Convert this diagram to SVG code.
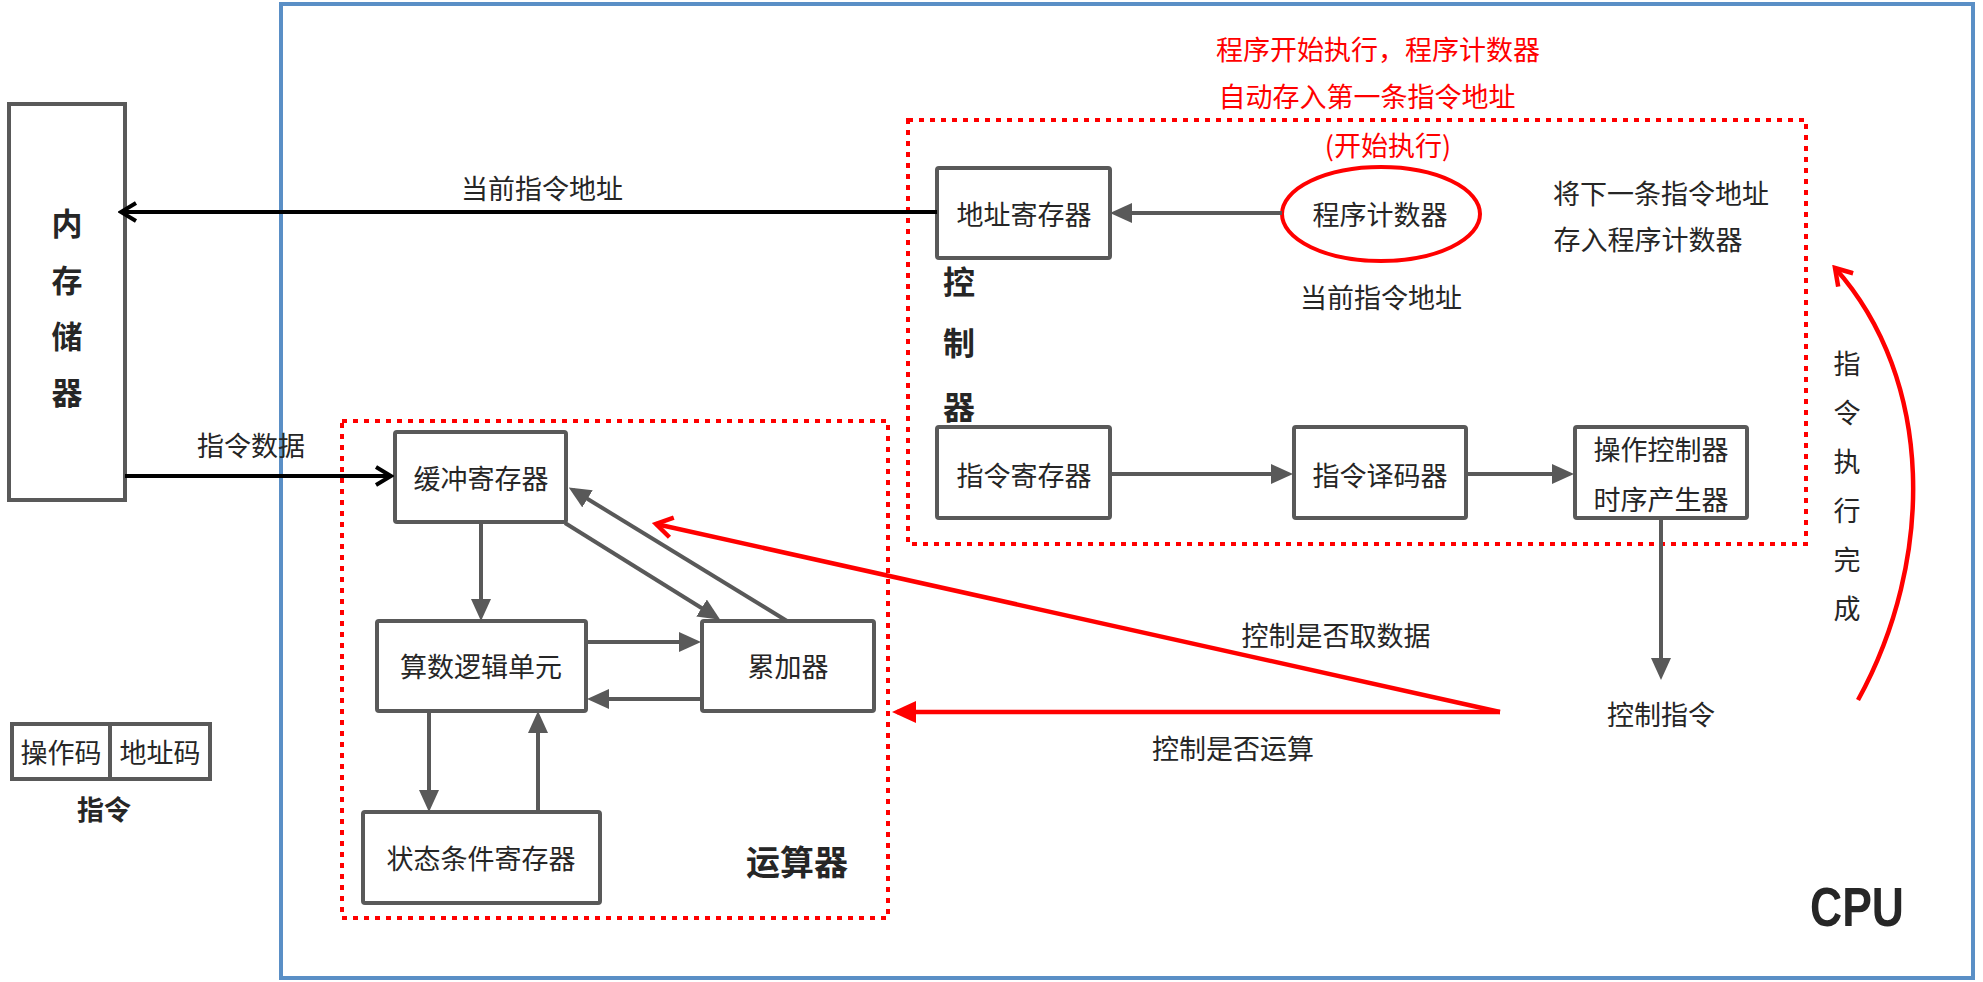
<svg xmlns="http://www.w3.org/2000/svg" width="1983" height="982" viewBox="0 0 1983 982">
<style>
.box{fill:#fff;stroke:#595959;stroke-width:4;}
.t{font-family:"Noto Sans CJK SC","Liberation Sans",sans-serif;font-size:27px;fill:#262626;text-anchor:middle;dominant-baseline:central;}
.bd{font-weight:bold;}
.red{fill:#ff0000;}
.dash{fill:none;stroke:#ff0000;stroke-width:4;stroke-dasharray:5 6;}
.ga{fill:none;stroke:#595959;stroke-width:4;marker-end:url(#gh);}
.ka{fill:none;stroke:#000;stroke-width:4;marker-end:url(#kh);}
.ro{fill:none;stroke:#ff0000;stroke-width:4.5;marker-end:url(#rh);}
.rf{fill:none;stroke:#ff0000;stroke-width:4.5;marker-end:url(#rfh);}
</style>
<defs>
<marker id="gh" markerUnits="userSpaceOnUse" viewBox="0 0 22 20" refX="17" refY="10" markerWidth="22" markerHeight="20" orient="auto"><path d="M0,0 L22,10 L0,20 z" fill="#595959"/></marker>
<marker id="kh" markerUnits="userSpaceOnUse" viewBox="-2 -2 20 22" refX="15" refY="9" markerWidth="20" markerHeight="22" orient="auto"><path d="M0,0 L15,9 L0,18" fill="none" stroke="#000" stroke-width="4"/></marker>
<marker id="rh" markerUnits="userSpaceOnUse" viewBox="-2 -2 22 24" refX="16" refY="10" markerWidth="22" markerHeight="24" orient="auto"><path d="M0,0 L16,10 L0,20" fill="none" stroke="#ff0000" stroke-width="4.5"/></marker>
<marker id="rfh" markerUnits="userSpaceOnUse" viewBox="0 0 24 22" refX="19" refY="11" markerWidth="24" markerHeight="22" orient="auto"><path d="M0,0 L24,11 L0,22 z" fill="#ff0000"/></marker>
</defs>
<rect width="1983" height="982" fill="#fff"/>

<g id="cpu">
<rect x="281" y="4" width="1692" height="974" fill="none" stroke="#5a8fc6" stroke-width="4"/>
<text x="1857" y="906" font-family="Liberation Sans, sans-serif" font-weight="bold" font-size="56" fill="#262626" text-anchor="middle" dominant-baseline="central" textLength="94" lengthAdjust="spacingAndGlyphs">CPU</text>
</g>

<g id="controller-area">
<rect class="dash" x="908" y="120" width="898" height="424"/>
<text class="t bd" font-size="32" x="959" y="280" style="font-size:32px">控</text>
<text class="t bd" x="959" y="341" style="font-size:32px">制</text>
<text class="t bd" x="959" y="405" style="font-size:32px">器</text>
</g>

<g id="alu-area">
<rect class="dash" x="342" y="421" width="546" height="497"/>
<text class="t bd" x="797" y="860" style="font-size:34px">运算器</text>
</g>

<g id="memory">
<rect class="box" x="9" y="104" width="116" height="396"/>
<text class="t bd" x="67" y="221" style="font-size:31px">内</text>
<text class="t bd" x="67" y="278" style="font-size:31px">存</text>
<text class="t bd" x="67" y="334" style="font-size:31px">储</text>
<text class="t bd" x="67" y="390" style="font-size:31px">器</text>
</g>

<g id="addr-reg">
<rect class="box" x="937" y="168" width="173" height="90" rx="2"/>
<text class="t" x="1024" y="213">地址寄存器</text>
</g>

<g id="pc">
<ellipse cx="1381" cy="214" rx="99" ry="47" fill="#fff" stroke="#ff0000" stroke-width="4"/>
<text class="t" x="1380" y="213">程序计数器</text>
</g>

<g id="ir">
<rect class="box" x="937" y="427" width="173" height="91" rx="2"/>
<text class="t" x="1024" y="474">指令寄存器</text>
</g>

<g id="decoder">
<rect class="box" x="1294" y="427" width="172" height="91" rx="2"/>
<text class="t" x="1380" y="474">指令译码器</text>
</g>

<g id="op-ctrl">
<rect class="box" x="1575" y="427" width="172" height="91" rx="2"/>
<text class="t" x="1661" y="448">操作控制器</text>
<text class="t" x="1661" y="498">时序产生器</text>
</g>

<g id="buffer-reg">
<rect class="box" x="395" y="432" width="171" height="90" rx="2"/>
<text class="t" x="481" y="477">缓冲寄存器</text>
</g>

<g id="alu">
<rect class="box" x="377" y="621" width="209" height="90" rx="2"/>
<text class="t" x="481" y="665">算数逻辑单元</text>
</g>

<g id="acc">
<rect class="box" x="702" y="621" width="172" height="90" rx="2"/>
<text class="t" x="788" y="665">累加器</text>
</g>

<g id="status-reg">
<rect class="box" x="363" y="812" width="237" height="91" rx="2"/>
<text class="t" x="481" y="857">状态条件寄存器</text>
</g>

<g id="instruction">
<rect class="box" x="12" y="724" width="98" height="55"/>
<rect class="box" x="110" y="724" width="100" height="55"/>
<text class="t" x="61" y="751">操作码</text>
<text class="t" x="160" y="751">地址码</text>
<text class="t bd" x="104" y="808">指令</text>
</g>

<g id="labels">
<text class="t red" x="1378" y="48">程序开始执行，程序计数器</text>
<text class="t red" x="1367" y="95">自动存入第一条指令地址</text>
<text class="t red" x="1388" y="144">(开始执行)</text>
<text class="t" x="1661" y="192">将下一条指令地址</text>
<text class="t" x="1648" y="238">存入程序计数器</text>
<text class="t" x="1381" y="296">当前指令地址</text>
<text class="t" x="542" y="187">当前指令地址</text>
<text class="t" x="251" y="444">指令数据</text>
<text class="t" x="1661" y="713">控制指令</text>
<text class="t" x="1336" y="634">控制是否取数据</text>
<text class="t" x="1233" y="747">控制是否运算</text>
<text class="t" x="1847" y="362">指</text>
<text class="t" x="1847" y="411">令</text>
<text class="t" x="1847" y="460">执</text>
<text class="t" x="1847" y="509">行</text>
<text class="t" x="1847" y="558">完</text>
<text class="t" x="1847" y="607">成</text>
</g>

<g id="connectors">
<line class="ka" x1="937" y1="212" x2="121" y2="212"/>
<line class="ka" x1="125" y1="476" x2="391" y2="476"/>
<line class="ga" x1="1282" y1="213" x2="1115" y2="213"/>
<line class="ga" x1="1110" y1="474" x2="1288" y2="474"/>
<line class="ga" x1="1466" y1="474" x2="1569" y2="474"/>
<line class="ga" x1="1661" y1="518" x2="1661" y2="675"/>
<line class="ga" x1="481" y1="522" x2="481" y2="616"/>
<line class="ga" x1="565" y1="523" x2="716" y2="617"/>
<line class="ga" x1="787" y1="621" x2="573" y2="490"/>
<line class="ga" x1="586" y1="642" x2="696" y2="642"/>
<line class="ga" x1="702" y1="699" x2="592" y2="699"/>
<line class="ga" x1="429" y1="711" x2="429" y2="807"/>
<line class="ga" x1="538" y1="812" x2="538" y2="716"/>
<line class="rf" x1="1500" y1="712" x2="897" y2="712"/>
<line class="ro" x1="1500" y1="712" x2="656" y2="524"/>
<path class="ro" d="M1858,700 C1935,560 1935,380 1835,268"/>
</g>
</svg>
